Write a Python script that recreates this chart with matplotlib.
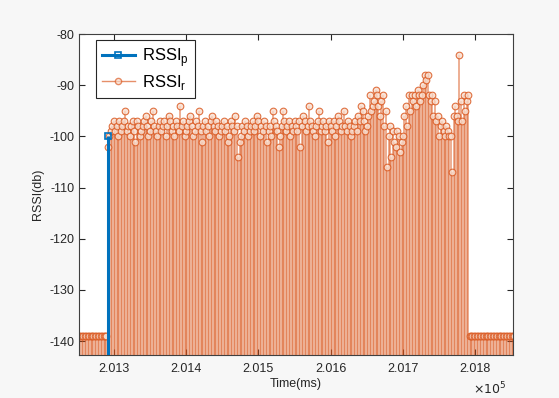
import numpy as np
import matplotlib.pyplot as plt
from matplotlib.lines import Line2D
from matplotlib.legend_handler import HandlerLine2D

plt.rcParams['font.family'] = ['Liberation Sans', 'DejaVu Sans']
plt.rcParams['axes.unicode_minus'] = False

# RSSI_p: single probe sample
t_p = [201292]
rssi_p = [-100]

# RSSI_r: received samples, 2 ms apart
t_left = np.arange(201252, 201292, 2)
rssi_left = [-139] * len(t_left)

t_mid = np.arange(201292, 201792, 2)
rssi_mid = [
    -102, -100, -99, -98, -97, -99, -98, -100, -97, -99,
    -98, -97, -95, -99, -98, -100, -98, -97, -99, -101,
    -97, -98, -100, -99, -98, -97, -96, -98, -100, -99,
    -97, -95, -98, -99, -100, -98, -97, -99, -98, -97,
    -100, -98, -96, -97, -99, -98, -100, -97, -98, -99,
    -94, -98, -97, -100, -99, -98, -97, -96, -98, -100,
    -99, -97, -98, -95, -99, -101, -98, -97, -99, -98,
    -100, -97, -96, -98, -99, -97, -98, -100, -99, -98,
    -97, -99, -98, -101, -100, -97, -98, -99, -96, -98,
    -104, -101, -100, -98, -99, -97, -98, -100, -99, -98,
    -97, -99, -98, -96, -97, -100, -98, -99, -97, -98,
    -101, -99, -98, -100, -95, -97, -98, -99, -102, -100,
    -98, -95, -97, -99, -98, -97, -100, -98, -99, -97,
    -98, -99, -97, -102, -98, -96, -97, -99, -98, -94,
    -97, -98, -99, -100, -98, -97, -95, -99, -98, -97,
    -99, -98, -101, -97, -98, -99, -97, -100, -98, -96,
    -97, -99, -98, -95, -98, -99, -97, -98, -100, -99,
    -98, -97, -99, -96, -97, -94, -95, -97, -99, -98,
    -96, -92, -95, -94, -93, -91, -92, -94, -96, -93,
    -92, -98, -95, -106, -100, -98, -104, -99, -101, -102,
    -99, -100, -103, -101, -100, -96, -94, -98, -92, -95,
    -92, -93, -92, -94, -91, -92, -93, -92, -90, -88,
    -89, -88, -92, -93, -92, -96, -93, -97, -96, -100,
    -98, -97, -99, -100, -98, -99, -100, -100, -107, -96,
    -94, -96, -97, -84, -93, -97, -92, -95, -93, -92,
]

t_right = np.arange(201792, 201856, 2)
rssi_right = [-139] * len(t_right)

t_r = np.concatenate([t_left, t_mid, t_right])
rssi_r = np.concatenate([rssi_left, rssi_mid, rssi_right])

blue = '#0072BD'
orange = '#D95319'
ink = '#262626'


class EndMarker(HandlerLine2D):
    # stem-style legend entry: line with the marker at its right end
    def get_xdata(self, legend, xdescent, ydescent, width, height, fontsize):
        xdata, _ = super().get_xdata(legend, xdescent, ydescent, width, height, fontsize)
        return xdata, [xdata[-1]]


fig = plt.figure(figsize=(5.59, 3.98), dpi=100, facecolor='#f7f7f7')
ax = fig.add_axes([0.1413, 0.108, 0.7764, 0.8065])

m, s, b = ax.stem(t_r, rssi_r, bottom=-150, basefmt=' ')
plt.setp(s, color=orange, linewidth=1.2, alpha=0.55)
plt.setp(m, color=orange, marker='o', markersize=4.8, markerfacecolor='#f8dccd',
         markeredgecolor=orange, markeredgewidth=0.8, alpha=0.8)

m2, s2, b2 = ax.stem(t_p, rssi_p, bottom=-150, basefmt=' ')
plt.setp(s2, color=blue, linewidth=2.2)
plt.setp(m2, color=blue, marker='s', markersize=4.5, markerfacecolor='none',
         markeredgecolor=blue, markeredgewidth=1.2)

ax.set_xlim(201252, 201852)
ax.set_ylim(-142.7, -80)
ax.set_yticks(np.arange(-140, -79, 10))
ax.set_xticks(np.arange(201300, 201801, 100))
ax.set_xticklabels(['%.3f' % (v / 1e5) for v in np.arange(201300, 201801, 100)])
ax.tick_params(direction='in', top=True, right=True, labelsize=9,
               colors=ink, length=4)
ax.tick_params(axis='x', pad=6)
for sp in ax.spines.values():
    sp.set_color('#404040')
    sp.set_linewidth(0.8)

ax.text(0.985, -0.08, r'$\times10^5$', transform=ax.transAxes, fontsize=9,
        color=ink, ha='right', va='top')
ax.set_xlabel('Time(ms)', fontsize=9, color=ink, labelpad=2)
ax.set_ylabel('RSSI(db)', fontsize=9, color=ink)

handles = [
    Line2D([], [], color=blue, linewidth=2.2, marker='s', markersize=4.5,
           markerfacecolor='none', markeredgewidth=1.2),
    Line2D([], [], color=orange, linewidth=1.0, alpha=0.65, marker='o', markersize=4.5,
           markerfacecolor='#f8dccd', markeredgecolor=orange),
]
leg = ax.legend(handles, [r'RSSI$_\mathregular{p}$', r'RSSI$_\mathregular{r}$'],
                loc='upper left', bbox_to_anchor=(0.039, 0.982), borderaxespad=0,
                fontsize=12, fancybox=False, framealpha=1, edgecolor=ink,
                handlelength=2.0, borderpad=0.35, labelspacing=0.25,
                handletextpad=0.4, numpoints=1,
                handler_map={Line2D: EndMarker()})
leg.get_frame().set_linewidth(0.8)

fig.savefig('out.png', dpi=100, facecolor=fig.get_facecolor())
